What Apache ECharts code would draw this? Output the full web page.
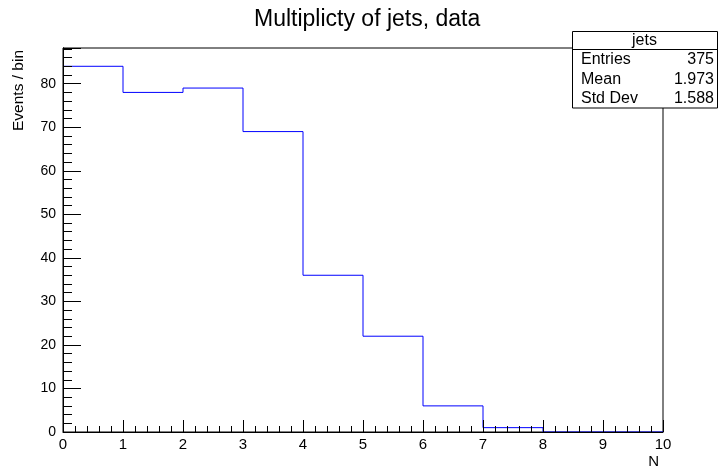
<!DOCTYPE html>
<html>
<head>
<meta charset="utf-8">
<script src="https://cdn.jsdelivr.net/npm/echarts@6/dist/echarts.min.js"></script>
<style>
  html, body { margin: 0; padding: 0; background: #fff; }
  #chart { width: 718px; height: 470px; }
</style>
</head>
<body>
<div id="chart"></div>
<script>
// Jet multiplicity histogram: one bin per integer N from 0 to 9
const binEdges = [0, 1, 2, 3, 4, 5, 6, 7, 8, 9, 10];
const counts = [84, 78, 79, 69, 36, 22, 6, 1, 0, 0];
const xTicks = [0, 1, 2, 3, 4, 5, 6, 7, 8, 9, 10];
const yTicks = [0, 10, 20, 30, 40, 50, 60, 70, 80];
const histName = 'jets';
const titleText = 'Multiplicty of jets, data';

// summary statistics of the filled values (N = low edge of each bin)
const entries = counts.reduce((a, b) => a + b, 0);
const mean = counts.reduce((s, c, i) => s + c * binEdges[i], 0) / entries;
const meanSq = counts.reduce((s, c, i) => s + c * binEdges[i] * binEdges[i], 0) / entries;
const stdDev = Math.sqrt(meanSq - mean * mean);

// step outline: each point is a bin's left edge, closing at the last edge
const outline = counts.map((c, i) => [binEdges[i], c]);
outline.push([binEdges[binEdges.length - 1], 0]);

const yMax = Math.max(...counts) * 1.05;
const font = '"Liberation Sans", Arial, Helvetica, sans-serif';
const ink = '#000';

const chart = echarts.init(document.getElementById('chart'), null, { renderer: 'canvas' });

const gridL = 63, gridR = 55, gridT = 48, gridB = 38;
const boxX = 572, boxY = 31, boxW = 145;
const headH = 18, rowH = 19.5;

const statRows = [
  ['Entries', String(entries)],
  ['Mean', mean.toFixed(3)],
  ['Std Dev', stdDev.toFixed(3)]
];
const statFont = '16px ' + font;
const statChildren = [
  { type: 'rect', shape: { x: boxX + 0.5, y: boxY + 0.5, width: boxW, height: headH + rowH * 3 },
    style: { fill: '#fff', stroke: ink, lineWidth: 1 } },
  { type: 'line', shape: { x1: boxX, y1: boxY + headH + 0.5, x2: boxX + boxW, y2: boxY + headH + 0.5 },
    style: { stroke: ink, lineWidth: 1 } },
  { type: 'text', x: boxX + boxW / 2, y: boxY + headH / 2 + 1,
    style: { text: histName, font: statFont, fill: ink, align: 'center', verticalAlign: 'middle' } }
];
statRows.forEach((r, i) => {
  const cy = boxY + headH + rowH * (i + 0.5) + 1;
  statChildren.push(
    { type: 'text', x: boxX + 9, y: cy,
      style: { text: r[0], font: statFont, fill: ink, align: 'left', verticalAlign: 'middle' } },
    { type: 'text', x: boxX + boxW - 3, y: cy,
      style: { text: r[1], font: statFont, fill: ink, align: 'right', verticalAlign: 'middle' } }
  );
});

// only the tens carry a label
const isLabelled = v => yTicks.some(t => Math.abs(t - v) < 1e-6);

chart.setOption({
  animation: false,
  backgroundColor: '#fff',
  title: {
    text: titleText,
    left: 249,
    top: 3,
    textStyle: { fontFamily: font, fontWeight: 'normal', fontSize: 23, color: ink }
  },
  grid: {
    left: gridL, right: gridR, top: gridT, bottom: gridB,
    show: true, borderColor: ink, borderWidth: 1
  },
  xAxis: {
    type: 'value',
    min: xTicks[0], max: xTicks[xTicks.length - 1], interval: 1,
    z: 5,
    axisLine: { show: true, lineStyle: { color: ink, width: 1 } },
    axisTick: { show: true, inside: true, length: 12, lineStyle: { color: ink } },
    minorTick: { show: true, splitNumber: 5, length: 6, lineStyle: { color: ink } },
    axisLabel: { color: ink, fontFamily: font, fontSize: 15, margin: 5 },
    splitLine: { show: false }
  },
  yAxis: [
    {
      // short ticks every 2 events, labels on the tens
      type: 'value',
      min: yTicks[0], max: yMax, interval: 2,
      z: 5,
      axisLine: { show: true, lineStyle: { color: ink, width: 1 } },
      axisTick: { show: true, inside: true, length: 9, lineStyle: { color: ink } },
      axisLabel: {
        color: ink, fontFamily: font, fontSize: 14, margin: 7,
        formatter: v => (isLabelled(v) ? String(v) : '')
      },
      splitLine: { show: false }
    },
    {
      // long ticks on the tens
      type: 'value',
      position: 'left',
      offset: 0,
      min: yTicks[0], max: yMax, interval: 10,
      z: 5,
      axisLine: { show: true, lineStyle: { color: ink } },
      axisTick: { show: true, inside: true, length: 18, lineStyle: { color: ink } },
      axisLabel: { show: false },
      splitLine: { show: false }
    }
  ],
  series: [{
    type: 'line',
    step: 'end',
    data: outline,
    symbol: 'none',
    z: 2,
    lineStyle: { color: '#0000ff', width: 1 },
    silent: true
  }],
  graphic: [
    {
      type: 'text', x: 19, y: 50, rotation: Math.PI / 2,
      style: { text: 'Events / bin', font: '15.5px ' + font, fill: ink, align: 'right', verticalAlign: 'middle' }
    },
    {
      type: 'text', x: 659, y: 462,
      style: { text: 'N', font: '15px ' + font, fill: ink, align: 'right', verticalAlign: 'middle' }
    },
    { type: 'group', z: 10, children: statChildren }
  ]
});
</script>
</body>
</html>
